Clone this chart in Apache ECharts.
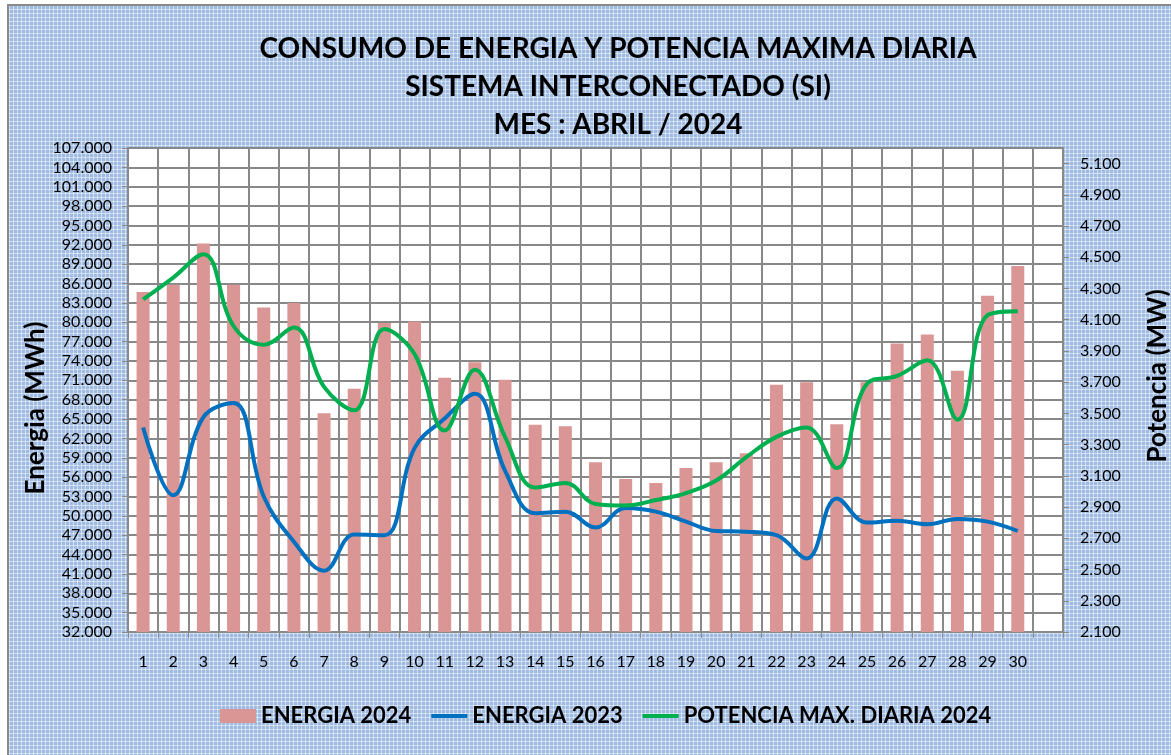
<!DOCTYPE html>
<html>
<head>
<meta charset="utf-8">
<title>Consumo de energia y potencia maxima diaria</title>
<script src="https://cdn.jsdelivr.net/npm/echarts@6/dist/echarts.min.js"></script>
<style>
    html, body { margin: 0; padding: 0; width: 1171px; height: 755px; overflow: hidden; background: #fff; }
    .fondo {
        position: absolute; left: 7px; top: 4px; width: 1200px; height: 800px;
        border: 2px solid #8a8a8a;
        background-color: #9fbbe3;
        background-image:
            repeating-linear-gradient(90deg, rgba(255,255,255,0.5) 0 1px, transparent 1px 4px),
            repeating-linear-gradient(0deg, rgba(255,255,255,0.5) 0 1px, transparent 1px 4px);
    }
    #grafico { position: absolute; left: 0; top: 0; width: 1171px; height: 755px; }
</style>
</head>
<body>
<div class="fondo"></div>
<div id="grafico"></div>
<script>
    // dias del mes (la ultima columna del eje queda vacia, como en la planilla)
    var dias = ['1','2','3','4','5','6','7','8','9','10','11','12','13','14','15',
                '16','17','18','19','20','21','22','23','24','25','26','27','28','29','30',''];

    // energia diaria (MWh)
    var energia2024 = [84700, 85800, 92200, 85800, 82300, 83000, 65900, 69700, 79900, 80100,
                       71400, 73800, 71100, 64100, 63900, 58300, 55700, 55100, 57400, 58300,
                       59700, 70300, 70700, 64200, 70700, 76700, 78100, 72500, 84100, 88700];
    var energia2023 = [63700, 53200, 65300, 67500, 53000, 46000, 41500, 47100, 47000, 60500,
                       65100, 68900, 57000, 50400, 50650, 48200, 51200, 50650, 49100, 47650,
                       47550, 47000, 43400, 52700, 48950, 49250, 48700, 49500, 49100, 47650];

    // potencia maxima diaria (MW)
    var potencia2024 = [4230, 4370, 4520, 4060, 3940, 4050, 3670, 3520, 4040, 3880,
                        3390, 3780, 3350, 3025, 3055, 2920, 2910, 2945, 2990, 3070,
                        3220, 3350, 3410, 3150, 3690, 3740, 3840, 3460, 4130, 4155];

    var fuente = 'Lato, "Open Sans", sans-serif';
    var iconoLinea = 'path://M0,0 L36,0 L36,4 L0,4 Z';

    function miles(v) {
        return (v / 1000).toFixed(3);
    }

    var myChart = echarts.init(document.getElementById('grafico'));

    var option = {
        backgroundColor: 'transparent',
        animation: false,
        textStyle: { fontFamily: fuente },
        title: {
            text: 'CONSUMO DE ENERGIA Y POTENCIA MAXIMA DIARIA\nSISTEMA INTERCONECTADO (SI)\nMES : ABRIL / 2024',
            left: 613,
            top: 25,
            textAlign: 'center',
            textStyle: {
                fontFamily: fuente,
                fontSize: 28,
                fontWeight: 'bold',
                color: '#000',
                lineHeight: 38
            }
        },
        legend: {
            left: 215,
            top: 700,
            itemWidth: 36,
            itemHeight: 14,
            itemGap: 20,
            symbolKeepAspect: true,
            textStyle: { fontFamily: fuente, fontSize: 22, fontWeight: 'bold', color: '#000' },
            data: [
                { name: 'ENERGIA 2024', icon: 'rect' },
                { name: 'ENERGIA 2023', icon: iconoLinea },
                { name: 'POTENCIA MAX. DIARIA 2024', icon: iconoLinea }
            ]
        },
        grid: {
            left: 128,
            top: 148,
            right: 108,
            bottom: 123,
            show: true,
            backgroundColor: '#ffffff',
            borderColor: '#8a8a8a',
            borderWidth: 1.5
        },
        xAxis: {
            type: 'category',
            data: dias,
            axisLine: { lineStyle: { color: '#8a8a8a', width: 1.5 } },
            axisTick: { show: true, interval: 0, length: 6, lineStyle: { color: '#8a8a8a' } },
            axisLabel: { interval: 0, margin: 22, fontSize: 16, color: '#000', fontFamily: fuente },
            splitLine: { show: true, interval: 0, lineStyle: { color: '#888888', width: 2 } }
        },
        yAxis: [
            {
                type: 'value',
                position: 'left',
                min: 32000,
                max: 107000,
                interval: 3000,
                axisLine: { show: true, lineStyle: { color: '#8a8a8a', width: 1.5 } },
                axisTick: { show: true, length: 6, lineStyle: { color: '#8a8a8a' } },
                axisLabel: { margin: 16, fontSize: 16, color: '#000', fontFamily: fuente, formatter: miles },
                splitLine: { show: true, lineStyle: { color: '#888888', width: 2 } }
            },
            {
                type: 'value',
                position: 'right',
                min: 2100,
                max: 5200,
                interval: 200,
                axisLine: { show: true, lineStyle: { color: '#8a8a8a', width: 1.5 } },
                axisTick: { show: true, length: 6, lineStyle: { color: '#8a8a8a' } },
                axisLabel: {
                    margin: 17, fontSize: 16, color: '#000', fontFamily: fuente,
                    showMaxLabel: false,
                    formatter: function (v) { return v > 5100 ? '' : miles(v); }
                },
                splitLine: { show: false }
            }
        ],
        graphic: [
            {
                type: 'text',
                x: 36, y: 408,
                rotation: Math.PI / 2,
                style: {
                    text: 'Energia (MWh)',
                    fontFamily: fuente, fontSize: 26, fontWeight: 'bold', fill: '#000',
                    align: 'center', verticalAlign: 'middle'
                }
            },
            {
                type: 'text',
                x: 1158, y: 376,
                rotation: Math.PI / 2,
                style: {
                    text: 'Potencia (MW)',
                    fontFamily: fuente, fontSize: 26, fontWeight: 'bold', fill: '#000',
                    align: 'center', verticalAlign: 'middle'
                }
            }
        ],
        series: [
            {
                name: 'ENERGIA 2024',
                type: 'bar',
                yAxisIndex: 0,
                barWidth: 13,
                itemStyle: { color: '#d99694' },
                data: energia2024
            },
            {
                name: 'ENERGIA 2023',
                type: 'line',
                yAxisIndex: 0,
                smooth: 0.4,
                symbol: 'none',
                lineStyle: { color: '#0070c0', width: 4 },
                itemStyle: { color: '#0070c0' },
                data: energia2023
            },
            {
                name: 'POTENCIA MAX. DIARIA 2024',
                type: 'line',
                yAxisIndex: 1,
                smooth: 0.4,
                symbol: 'none',
                lineStyle: { color: '#00b050', width: 4 },
                itemStyle: { color: '#00b050' },
                data: potencia2024
            }
        ]
    };

    myChart.setOption(option);
</script>
</body>
</html>
